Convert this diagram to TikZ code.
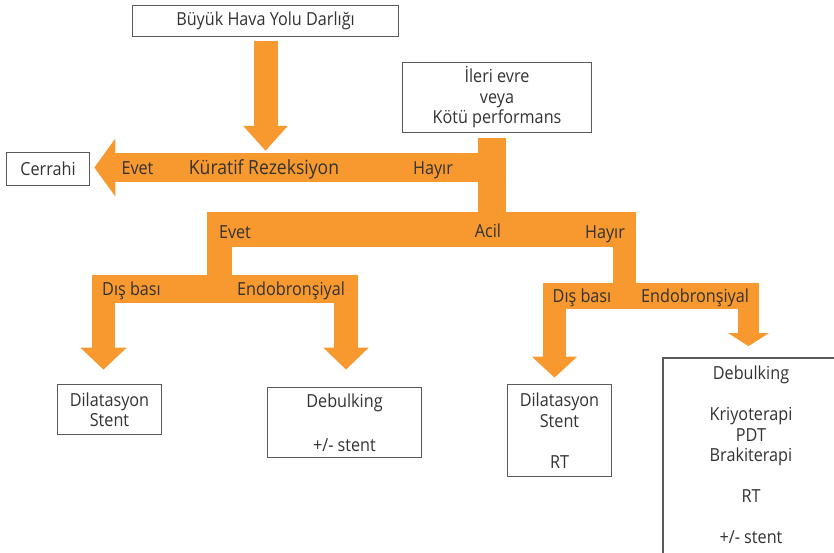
\documentclass[tikz,border=0pt]{standalone}
\usepackage{fontspec}
\setmainfont{Open Sans}[FakeStretch=0.9]
\usepackage{tikz}
\usetikzlibrary{arrows.meta,positioning,calc}
\definecolor{bandorange}{RGB}{247,153,46}
\definecolor{boxgray}{RGB}{90,90,90}
\definecolor{txtgray}{RGB}{50,50,50}

\begin{document}
\begin{tikzpicture}[
    x=1pt, y=-1pt,
    font=\fontsize{18}{20.5}\selectfont,
    text=txtgray,
    box/.style={
        rectangle, draw=boxgray, line width=1.7pt,
        align=center, inner sep=0pt
    },
    band/.style={bandorange, line cap=butt},
    lbl/.style={anchor=base, inner sep=0pt},
]
  \useasboundingbox (0,0) rectangle (834,552);
  \clip (0,0) rectangle (834,552);

  %––– Boxes –––––––––––––––––––––––––––––––––––––––––––––––
  \node (top) [box, minimum width=266pt, minimum height=31pt] at (265.5,21) {Büyük Hava Yolu Darlığı};
  \node (ileri) [box, minimum width=189pt, minimum height=70pt] at (497,97.5) {İleri evre\\veya\\Kötü performans};
  \node (cerrahi) [box, minimum width=83pt, minimum height=33pt] at (48,169) {Cerrahi};

  \node (dil1) [box, minimum width=104pt, minimum height=50pt] at (109.5,409.5) {Dilatasyon\\Stent};
  \node (deb1) [box, minimum width=154pt, minimum height=70pt] at (344.5,422.5) {Debulking\\[23pt]+/- stent};
  \node (dil2) [box, minimum width=104pt, minimum height=92pt] at (559.5,430.5) {Dilatasyon\\Stent\\[20.5pt]RT};
  % box runs on past the lower edge of the picture
  \node (deb2) [box, minimum width=176pt, minimum height=214pt] at (751,465) {Debulking\\[20.5pt]Kriyoterapi\\PDT\\Brakiterapi\\[20.5pt]RT\\[20.5pt]+/- stent\\\mbox{}};

  %––– Junction points ––––––––––––––––––––––––––––––––––––––
  \coordinate (j1) at (492,167.5);
  \coordinate (j2) at (492,229.5);
  \coordinate (b2l) at (219.5,229.5);
  \coordinate (b2r) at (624.5,229.5);
  \coordinate (a1) at (103.5,289);
  \coordinate (a2) at (346,289);
  \coordinate (a3) at (554.5,296);
  \coordinate (a4) at (748.5,296);

  %––– Orange arrows ––––––––––––––––––––––––––––––––––––––––
  \draw[band, line width=24pt, -{Triangle[length=25pt,width=43pt]}]
      ([yshift=-3.5pt]top.south) -- ++(0,110);

  \draw[band, line width=28pt, shorten <=5pt] (ileri.south -| j1) -- (j2);
  \draw[band, line width=29pt, shorten >=4pt, -{Triangle[length=21pt,width=57pt]}]
      ([xshift=14pt]j1) -- (cerrahi.east |- j1);

  \draw[band, line width=35pt] (207,229.5) -- (636,229.5);
  \draw[band, line width=25pt] (b2l) -- (b2l |- a1);
  \draw[band, line width=23pt] (b2r) -- (b2r |- a3);

  \draw[band, line width=28pt] (92,289) -- (358,289);
  \draw[band, line width=23pt, shorten >=14pt, -{Triangle[length=22pt,width=45pt]}] (a1) -- (a1 |- dil1.north);
  \draw[band, line width=24pt, shorten >=17pt, -{Triangle[length=22pt,width=44pt]}] (a2) -- (a2 |- deb1.north);

  \draw[band, line width=26pt] (543,296) -- (759,296);
  \draw[band, line width=23pt, shorten >=6pt, -{Triangle[length=21pt,width=44pt]}] (a3) -- (a3 |- dil2.north);
  \draw[band, line width=21pt, shorten >=11pt, -{Triangle[length=13pt,width=40pt]}] (a4) -- (a4 |- deb2.north);

  %––– Labels on the arrows –––––––––––––––––––––––––––––––––
  \node (evet1) [lbl] at (137.5,174) {Evet};
  \node (kur) [lbl, font=\fontsize{19.5}{20}\selectfont] at (264,174) {Küratif Rezeksiyon};
  \node (hayir1) [lbl] at (433,174) {Hayır};

  \node (evet2) [lbl] at (235,238) {Evet};
  \node (acil) [lbl] at (488,237.5) {Acil};
  \node (hayir2) [lbl] at (605,238) {Hayır};

  \node (dis1) [lbl] at (131.5,295) {Dış bası};
  \node (endo1) [lbl] at (291,295) {Endobronşiyal};
  \node (dis2) [lbl] at (582,302) {Dış bası};
  \node (endo2) [lbl] at (695,302) {Endobronşiyal};
\end{tikzpicture}
\end{document}
